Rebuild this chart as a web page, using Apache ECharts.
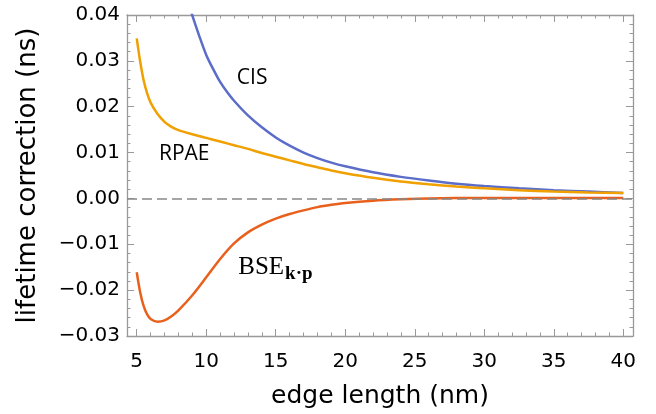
<!DOCTYPE html>
<html>
<head>
<meta charset="utf-8">
<script src="https://cdn.jsdelivr.net/npm/echarts@6/dist/echarts.min.js"></script>
<style>
  html, body { margin: 0; padding: 0; background: #fff; }
  #chart { width: 656px; height: 414px; }
</style>
</head>
<body>
<div id="chart"></div>
<script>
// values (edge length nm, lifetime correction ns)
const cisX = [8.9, 9.5, 10, 10.5, 11, 11.5, 12, 13, 14, 15, 16, 17, 18, 19, 20, 22, 24, 26, 28, 30, 32.5, 35, 37.5, 40];
const cisY = [0.0408, 0.0354, 0.0313, 0.0282, 0.0254, 0.0232, 0.0213, 0.0181, 0.0155, 0.0133, 0.0115, 0.0100, 0.0088, 0.0078, 0.0070, 0.0057, 0.0047, 0.0039, 0.0032, 0.0027, 0.0022, 0.0018, 0.0015, 0.0012];

const rpaeX = [5.0, 5.25, 5.5, 5.75, 6.0, 6.5, 7.0, 7.5, 8.0, 9.0, 10, 11, 12, 13, 14, 15, 16, 17, 18, 19, 20, 22, 24, 26, 28, 30, 32.5, 35, 37.5, 40];
const rpaeY = [0.0349, 0.0298, 0.0257, 0.0229, 0.0209, 0.0184, 0.0167, 0.0156, 0.0149, 0.0140, 0.0132, 0.0124, 0.0116, 0.0108, 0.0099, 0.0091, 0.0083, 0.0075, 0.0068, 0.0061, 0.0055, 0.0045, 0.0037, 0.0031, 0.0026, 0.0022, 0.0018, 0.0015, 0.0013, 0.0012];

const bseX = [5.0, 5.25, 5.5, 5.75, 6.0, 6.5, 7.0, 7.5, 8.0, 9.0, 10, 11, 12, 13, 14, 15, 16, 17, 18, 19, 20, 22, 24, 26, 30, 35, 40];
const bseY = [-0.0161, -0.0205, -0.0235, -0.0253, -0.0263, -0.0269, -0.0266, -0.0257, -0.0244, -0.0211, -0.0172, -0.0132, -0.0098, -0.0074, -0.0057, -0.0044, -0.0034, -0.0026, -0.0019, -0.0014, -0.0010, -0.0005, -0.0002, 0.0000, 0.0001, 0.0001, 0.0001];

const xMajor = [5, 10, 15, 20, 25, 30, 35, 40];
const xMinor = [5, 6, 7, 8, 9, 10, 11, 12, 13, 14, 15, 16, 17, 18, 19, 20, 21, 22, 23, 24, 25, 26, 27, 28, 29, 30, 31, 32, 33, 34, 35, 36, 37, 38, 39, 40];

const zip = (xs, ys) => xs.map((x, i) => [x, ys[i]]);

const frameGray = '#999';
const labelFont = { color: '#000', fontFamily: 'DejaVu Sans', fontSize: 20 };

const xAxisBase = (pos, values, len, labels, line) => ({
    type: 'value', position: pos, min: 4.3, max: 40.7,
    axisLine: { show: line, onZero: false, lineStyle: { color: frameGray, width: 1.3 } },
    axisTick: { show: true, inside: true, length: len, customValues: values, lineStyle: { color: frameGray, width: 1 } },
    axisLabel: labels ? Object.assign({ show: true, margin: 16, customValues: values }, labelFont) : { show: false },
    splitLine: { show: false }
})

const yAxisBase = (pos, labels) => ({
    type: 'value', position: pos, min: -0.03, max: 0.04, interval: 0.01,
    axisLine: { show: true, onZero: false, lineStyle: { color: frameGray, width: 1.3 } },
    axisTick: { show: true, inside: true, length: 7, lineStyle: { color: frameGray, width: 1 } },
    minorTick: { show: true, splitNumber: 5, length: 3.5, lineStyle: { color: frameGray, width: 1 } },
    axisLabel: labels ? Object.assign({
        show: true, margin: 7,
        formatter: v => (v < -1e-9 ? '\u2212' : '') + Math.abs(v).toFixed(2)
    }, labelFont) : { show: false },
    splitLine: { show: false }
})

const chart = echarts.init(document.getElementById('chart'), null, { renderer: 'canvas' });

const xMain = xAxisBase('bottom', xMajor, 7, true, true);
xMain.name = 'edge length (nm)';
xMain.nameLocation = 'middle';
xMain.nameGap = 48;
xMain.nameTextStyle = { color: '#000', fontFamily: 'DejaVu Sans', fontSize: 25 };

const yMain = yAxisBase('left', true);
yMain.name = 'lifetime correction (ns)';
yMain.nameLocation = 'middle';
yMain.nameGap = 86;
yMain.nameTextStyle = { color: '#000', fontFamily: 'DejaVu Sans', fontSize: 26 };

const lineSeries = (name, data, color) => ({
    name: name, type: 'line', data: data, smooth: 0.3, showSymbol: false,
    xAxisIndex: 0, yAxisIndex: 0, clip: true,
    lineStyle: { color: color, width: 2.5 }, itemStyle: { color: color },
    animation: false
})

const bse = lineSeries('BSE', zip(bseX, bseY), '#e8601c');
bse.markLine = {
    silent: true, symbol: 'none', label: { show: false }, animation: false,
    lineStyle: { color: '#888', width: 1.6, type: [10, 5] },
    data: [{ yAxis: 0 }]
};

chart.setOption({
    backgroundColor: '#fff',
    animation: false,
    grid: { left: 127, right: 23, top: 15, bottom: 76 },
    xAxis: [
        xMain,
        xAxisBase('bottom', xMinor, 3.5, false, false),
        xAxisBase('top', xMajor, 7, false, true),
        xAxisBase('top', xMinor, 3.5, false, false)
    ],
    yAxis: [yMain, yAxisBase('right', false)],
    series: [
        lineSeries('CIS', zip(cisX, cisY), '#5b6dc8'),
        lineSeries('RPAE', zip(rpaeX, rpaeY), '#f0a000'),
        bse
    ]
});

// curve labels placed in data coordinates
const at = (x, y) => chart.convertToPixel({ gridIndex: 0 }, [x, y]);
const pCis = at(13.3, 0.0263);
const pRpae = at(8.42, 0.0096);
const pBse = at(12.3, -0.0150);

chart.setOption({
    graphic: [
        { type: 'text', x: pCis[0], y: pCis[1], style: { text: 'CIS', fontFamily: 'Open Sans', fontSize: 21, fill: '#000', align: 'center', verticalAlign: 'middle' } },
        { type: 'text', x: pRpae[0], y: pRpae[1], style: { text: 'RPAE', fontFamily: 'Open Sans', fontSize: 21, fill: '#000', align: 'center', verticalAlign: 'middle' } },
        {
            type: 'text', x: pBse[0], y: pBse[1],
            style: {
                text: '{a|BSE}{b|k\u00b7p}',
                align: 'left', verticalAlign: 'middle',
                rich: {
                    a: { fontFamily: 'Liberation Serif', fontSize: 25, color: '#000' },
                    b: { fontFamily: 'Liberation Serif', fontSize: 19, fontWeight: 'bold', color: '#000', padding: [14, 0, 0, 1] }
                }
            }
        }
    ]
});
</script>
</body>
</html>
